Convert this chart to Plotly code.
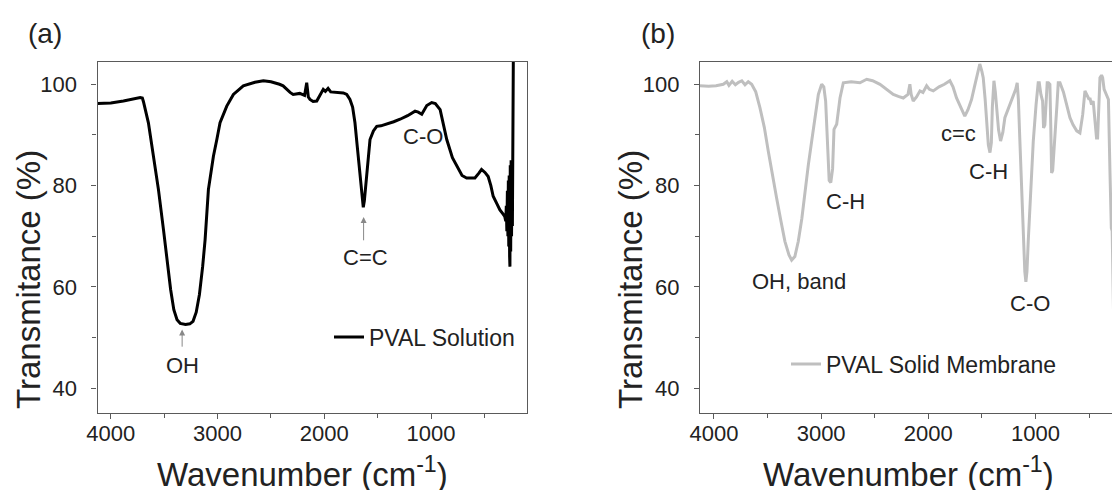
import plotly.graph_objects as go

# The page body has an 8px default margin: the figure is sized to the visible window.
OFF = 8
W, H = 1120 - OFF, 490 - OFF
FONT = "Arial, Liberation Sans, sans-serif"

# ---------------- Panel (a): PVAL Solution ----------------
wn_a = [4125, 4000, 3882, 3800, 3725, 3705, 3695, 3648, 3601, 3554, 3507, 3470, 3440, 3410,
        3380, 3350, 3300, 3260, 3230, 3200, 3170, 3140, 3117, 3086, 3039, 3007, 2977, 2914,
        2852, 2759, 2650, 2571, 2500, 2420, 2386, 2321, 2292, 2230, 2185, 2165, 2150, 2134,
        2105, 2071, 2040, 2010, 1990, 1965, 1940, 1884, 1822, 1790, 1760, 1735, 1713, 1695,
        1682, 1660, 1645, 1635, 1625, 1603, 1572, 1540, 1509, 1470, 1416, 1350, 1290, 1220,
        1150, 1120, 1087, 1040, 994, 960, 915, 880, 853, 800, 760, 710, 667, 589, 550, 527,
        495, 465, 440, 418, 385, 355, 330, 310, 300, 295, 290, 285, 280, 276, 272, 268, 264,
        261, 258, 254, 250, 246, 242, 238, 235, 232, 228]
t_a = [96.2, 96.3, 96.7, 97.1, 97.4, 97.3, 96.6, 92.4, 85.8, 79.2, 71.3, 64.5, 59.5, 55.5,
       53.5, 52.8, 52.6, 52.7, 53.2, 55.0, 58.5, 64.0, 69.3, 79.2, 85.8, 89.1, 92.4, 95.7,
       98.0, 99.7, 100.4, 100.7, 100.5, 100.0, 99.7, 98.4, 98.0, 98.2, 97.8, 100.3, 97.5, 97.0,
       96.6, 96.7, 97.8, 99.0, 98.6, 99.2, 98.5, 98.4, 98.3, 98.0, 97.0, 95.5, 92.4, 88.5,
       85.8, 80.5, 77.0, 75.7, 77.0, 82.5, 89.1, 90.8, 91.7, 91.8, 92.1, 92.6, 93.1, 93.8,
       94.7, 94.5, 94.1, 95.8, 96.4, 96.2, 95.0, 92.0, 89.1, 85.5, 83.8, 82.0, 81.5, 81.5, 82.5, 83.2,
       82.6, 81.8, 80.0, 77.9, 76.5, 75.2, 74.5, 73.9, 73.0, 76.0, 71.0, 79.0, 70.0, 81.0, 68.0, 82.0, 66.0,
       64.0, 84.0, 67.0, 85.0, 70.0, 80.0, 72.0, 90.0, 110.0, 110.0]

# ---------------- Panel (b): PVAL Solid Membrane ----------------
wn_b = [4130, 4050, 3980, 3913, 3880, 3860, 3830, 3800, 3770, 3740, 3710, 3680, 3648, 3610,
        3571, 3530, 3493, 3455, 3415, 3375, 3338, 3300, 3275, 3245, 3213, 3180, 3151, 3120,
        3088, 3055, 3026, 2995, 2975, 2958, 2939, 2925, 2910, 2893, 2880, 2855, 2824, 2793,
        2720, 2638, 2575, 2520, 2451, 2400, 2327, 2280, 2234, 2190, 2172, 2160, 2141, 2110,
        2078, 2050, 2016, 1990, 1954, 1900, 1850, 1799, 1770, 1737, 1700, 1660, 1630, 1597,
        1570, 1551, 1520, 1500, 1488, 1470, 1457, 1440, 1425, 1412, 1403, 1388, 1375, 1363,
        1345, 1326, 1305, 1286, 1250, 1208, 1185, 1171, 1160, 1146, 1130, 1115, 1100, 1090,
        1080, 1068, 1045, 1021, 995, 975, 965, 950, 934, 925, 913, 900, 891, 880, 866, 858,
        850, 840, 830, 819, 800, 788, 772, 740, 700, 679, 650, 616, 586, 560, 539, 520, 500,
        493, 478, 462, 445, 431, 421, 410, 399, 384, 374, 360, 337, 320, 305, 293, 285, 280,
        270, 260, 250, 245]
t_b = [99.7, 99.6, 99.7, 100.0, 100.5, 99.8, 100.6, 99.9, 100.4, 100.7, 99.9, 100.5, 100.0, 98.5,
       95.4, 91.5, 86.8, 82.0, 77.5, 73.0, 69.0, 66.3, 65.3, 66.0, 69.0, 73.5, 78.9, 84.0,
       88.8, 93.5, 98.0, 100.0, 99.5, 96.7, 85.5, 81.0, 80.6, 83.3, 91.1, 92.1, 97.3, 100.3,
       100.5, 100.3, 101.0, 100.7, 100.0, 99.2, 98.0, 97.6, 97.3, 98.0, 100.0, 98.0, 96.7, 97.5,
       98.7, 98.4, 99.7, 99.0, 98.7, 99.5, 100.0, 100.7, 99.5, 97.3, 95.5, 93.7, 95.0, 97.0,
       99.5, 101.3, 104.0, 102.5, 101.3, 97.0, 92.1, 88.0, 86.5, 88.5, 95.4, 100.7, 98.5, 95.4,
       91.0, 88.8, 90.5, 93.4, 95.5, 97.7, 99.0, 100.3, 97.0, 88.8, 79.0, 69.0, 63.0, 61.0,
       63.0, 69.0, 79.0, 88.8, 96.0, 100.3, 100.3, 98.0, 96.7, 91.4, 92.0, 97.0, 100.3, 100.3, 100.0, 92.0,
       82.5, 83.0, 86.0, 88.8, 96.0, 100.3, 100.3, 98.5, 95.5, 93.4, 92.0, 90.8, 90.4, 94.0, 98.7, 97.8, 97.0,
       97.3, 96.0, 96.7, 93.0, 89.4, 89.4, 95.0, 101.3, 101.8, 101.3, 99.0, 98.0, 97.0, 82.2, 71.6, 71.0, 62.4,
       52.0, 44.0, 39.6, 39.5]

x_ticks = [4000, 3000, 2000, 1000]
y_ticks = [40, 60, 80, 100]
xrange_a = [4125, 104]
xrange_b = [4130, 240]
yrange = [35.2, 104.5]

fig = go.Figure()
fig.add_trace(go.Scatter(x=wn_a, y=t_a, mode="lines", name="PVAL Solution",
                         line=dict(color="#000000", width=3), xaxis="x", yaxis="y",
                         legend="legend", showlegend=True))
fig.add_trace(go.Scatter(x=wn_b, y=t_b, mode="lines", name="PVAL Solid Membrane",
                         line=dict(color="#bfbfbf", width=3), xaxis="x2", yaxis="y2",
                         legend="legend2", showlegend=True))


def px_x(p):
    # window pixel -> paper fraction
    return (p - OFF) / W


def px_y(p):
    return (H - (p - OFF)) / H


axis_common = dict(showline=True, mirror=True, linecolor="#5a5a5a", linewidth=1.3,
                   ticks="outside", ticklen=5, tickwidth=1.2, tickcolor="#5a5a5a",
                   showgrid=False, zeroline=False,
                   tickfont=dict(family=FONT, size=22, color="#222222"))

xa = dict(axis_common, tickvals=x_ticks, ticktext=[str(v) for v in x_ticks],
          minor=dict(ticks="outside", ticklen=4, tickwidth=1.2, tickcolor="#5a5a5a",
                     tickvals=[3500, 2500, 1500, 500]),
          ticklabelstandoff=-4)
ya = dict(axis_common, tickvals=y_ticks, ticktext=[str(v) for v in y_ticks],
          minor=dict(ticks="outside", ticklen=4, tickwidth=1.2, tickcolor="#5a5a5a",
                     tickvals=[50, 70, 90]),
          range=yrange, ticklabelstandoff=10)

ydom = [px_y(412.5), px_y(61.5)]
leg_font = dict(family=FONT, size=23, color="#222222")
fig.update_layout(
    width=W, height=H, margin=dict(l=0, r=0, t=0, b=0, autoexpand=False),
    paper_bgcolor="white", plot_bgcolor="white", showlegend=True,
    font=dict(family=FONT, color="#222222"),
    xaxis=dict(xa, domain=[px_x(97.5), px_x(526.7)], range=xrange_a, anchor="y"),
    yaxis=dict(ya, domain=ydom, anchor="x"),
    xaxis2=dict(xa, domain=[px_x(700), px_x(1117)], range=xrange_b, anchor="y2"),
    yaxis2=dict(ya, domain=ydom, anchor="x2"),
    legend=dict(x=px_x(329), y=px_y(337), xanchor="left", yanchor="middle",
                bgcolor="rgba(0,0,0,0)", font=leg_font),
    legend2=dict(x=px_x(786), y=px_y(364), xanchor="left", yanchor="middle",
                 bgcolor="rgba(0,0,0,0)", font=leg_font),
)

ann = []
lab_font = dict(family=FONT, size=22, color="#222222")
# panel (a) labels
for txt, x, y in [("OH", 3332, 44.5), ("C=C", 1610, 65.9), ("C-O", 1076, 89.7)]:
    ann.append(dict(text=txt, x=x, y=y, xref="x", yref="y", showarrow=False, font=lab_font))
# panel (b) labels
for txt, x, y in [("OH, band", 3207, 61.0), ("C-H", 2769, 76.9), ("c=c", 1715, 90.2),
                  ("C-H", 1435, 82.8), ("C-O", 1052, 56.7)]:
    ann.append(dict(text=txt, x=x, y=y, xref="x2", yref="y2", showarrow=False, font=lab_font))
# arrows in panel (a)
for x, y0, y1 in [(3332, 47.9, 51.6), (1632, 68.9, 73.8)]:
    ann.append(dict(text="", x=x, y=y1, ax=x, ay=y0, xref="x", yref="y", axref="x", ayref="y",
                    showarrow=True, arrowhead=2, arrowsize=1.2, arrowwidth=1, arrowcolor="#888888"))
# axis titles and panel letters
title_font = dict(family=FONT, size=33, color="#222222")
for cx in [28, 630]:
    ann.append(dict(text="Transmitance (%)", x=px_x(cx), y=px_y(280), xref="paper", yref="paper",
                    textangle=-90, showarrow=False, font=title_font,
                    xanchor="center", yanchor="middle"))
for cx in [302, 908]:
    ann.append(dict(text="Wavenumber (cm<sup>-1</sup>)", x=px_x(cx), y=px_y(472),
                    xref="paper", yref="paper", showarrow=False, font=title_font,
                    xanchor="center", yanchor="middle"))
for txt, cx in [("(a)", 45), ("(b)", 658)]:
    ann.append(dict(text=txt, x=px_x(cx), y=px_y(33), xref="paper", yref="paper",
                    showarrow=False, font=dict(family=FONT, size=28, color="#222222"),
                    xanchor="center", yanchor="middle"))
fig.update_layout(annotations=ann)

fig.write_html("out.html")
